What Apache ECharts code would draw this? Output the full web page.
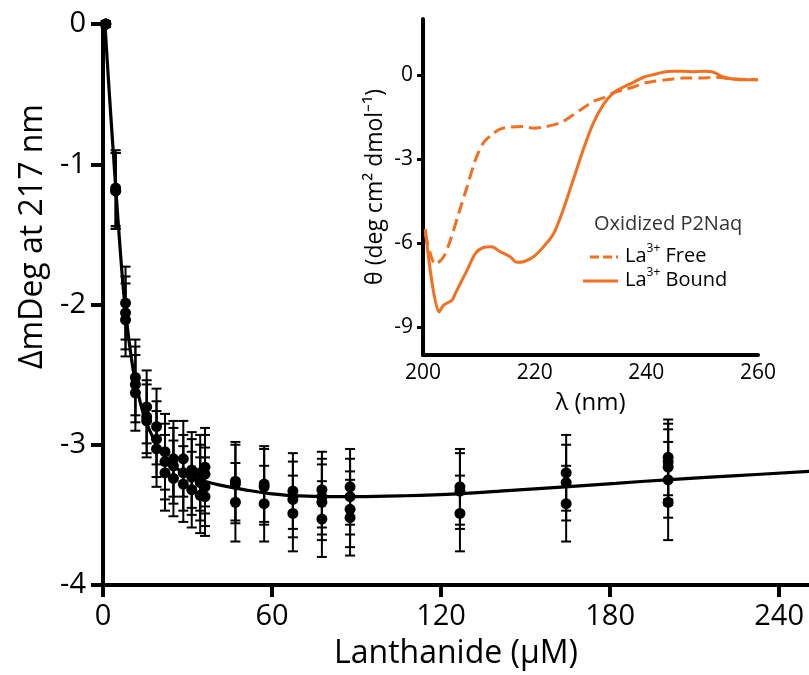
<!DOCTYPE html>
<html>
<head>
<meta charset="utf-8">
<script src="https://cdn.jsdelivr.net/npm/echarts@6/dist/echarts.min.js"></script>
<style>html,body{margin:0;padding:0;background:#fff;}#c{width:809px;height:675px;}</style>
</head>
<body>
<div id="c"></div>
<script>
// ---- Main titration data (Lanthanide µM vs ΔmDeg at 217 nm) ----
const conc = [1, 4.5, 8, 11.5, 15.5, 19, 22, 25, 28.5, 31.5, 34.5, 36.2, 47, 57.2, 67.4, 77.7, 87.7, 126.7, 164.4, 200.6];
const rep1 = [0, -1.17, -1.99, -2.52, -2.73, -2.87, -3.05, -3.10, -3.10, -3.18, -3.20, -3.16, -3.26, -3.28, -3.33, -3.32, -3.30, -3.30, -3.20, -3.09];
const rep2 = [0, -1.19, -2.06, -2.57, -2.80, -2.96, -3.12, -3.15, -3.20, -3.23, -3.27, -3.21, -3.28, -3.30, -3.39, -3.37, -3.37, -3.33, -3.27, -3.12];
const rep3 = [0, -1.19, -2.11, -2.63, -2.83, -3.03, -3.20, -3.24, -3.28, -3.32, -3.36, -3.30, -3.41, -3.42, -3.49, -3.41, -3.46, -3.49, -3.42, -3.16];
const rep4 = [null, null, null, null, null, null, null, null, null, null, null, -3.37, null, null, null, -3.53, -3.52, null, null, -3.25];
const rep5 = [null, null, null, null, null, null, null, null, null, null, null, null, null, null, null, null, null, null, null, -3.41];
const errBar = [0.02, 0.27, 0.26, 0.27, 0.26, 0.27, 0.27, 0.27, 0.27, 0.27, 0.27, 0.28, 0.28, 0.27, 0.27, 0.27, 0.27, 0.27, 0.27, 0.27];

// fitted curve
const fitX = [0.7, 2, 3.5, 4.6, 6, 7.5, 9, 11, 13, 15, 18, 21, 25, 30, 36, 42, 50, 60, 70, 80, 90, 105, 126, 145, 164, 182, 200, 225, 251];
const fitY = [0, -0.42, -0.87, -1.19, -1.58, -1.95, -2.22, -2.50, -2.68, -2.82, -2.96, -3.06, -3.15, -3.22, -3.26, -3.29, -3.32, -3.35, -3.365, -3.37, -3.37, -3.365, -3.35, -3.325, -3.30, -3.275, -3.25, -3.22, -3.19];

const mainXTicks = [0, 60, 120, 180, 240];
const mainYTicks = [0, -1, -2, -3, -4];

// ---- Inset CD spectra ----
const boundX = [200.4, 202.9, 203.7, 205.2, 205.8, 207.9, 209.4, 210.8, 212.3, 213.8, 215.6, 216.8, 218, 219.8, 221.6, 223.4, 225.1, 226.9, 228.7, 230.5, 232.3, 234.1, 235.9, 237.7, 239.5, 241.2, 243, 244.8, 246.6, 248.4, 250.2, 252, 253.8, 255.5, 257.9, 260];
const boundY = [-5.5, -8.46, -8.22, -8.04, -7.8, -6.97, -6.37, -6.16, -6.13, -6.31, -6.49, -6.69, -6.67, -6.49, -6.13, -5.66, -4.82, -3.75, -2.67, -1.72, -1.06, -0.64, -0.43, -0.26, -0.08, 0.01, 0.10, 0.13, 0.13, 0.12, 0.13, 0.10, -0.07, -0.14, -0.17, -0.17];
const freeX = [200.4, 201.3, 202.2, 203.7, 204.9, 206.4, 207.9, 209.4, 210.8, 212.3, 213.8, 215.6, 218, 219.8, 221.6, 223.4, 225.1, 226.9, 228.7, 230.5, 232.3, 234.1, 235.9, 237.7, 239.5, 241.2, 243.6, 246.6, 249.6, 252.5, 255.5, 260];
const freeY = [-5.66, -6.37, -6.76, -6.49, -5.9, -4.94, -3.99, -3.03, -2.43, -2.14, -1.93, -1.86, -1.84, -1.9, -1.86, -1.78, -1.66, -1.42, -1.18, -0.94, -0.82, -0.64, -0.53, -0.43, -0.29, -0.23, -0.17, -0.11, -0.11, -0.08, -0.14, -0.17];
const insetYTicks = [0, -3, -6, -9];
const insetXTicks = [200, 220, 240, 260];

const FONT = '"Open Sans", "Liberation Sans", sans-serif';
const ORANGE = '#f37021';

const pts = [];
const errs = [];
[rep1, rep2, rep3, rep4, rep5].forEach(rep => {
  rep.forEach((v, i) => {
    if (v === null) return;
    pts.push([conc[i], v]);
    errs.push([conc[i], v, errBar[i]]);
  });
});

const chart = echarts.init(document.getElementById('c'), null, {renderer: 'canvas'});
chart.setOption({
  animation: false,
  backgroundColor: '#fff',
  textStyle: {fontFamily: FONT},
  grid: [
    {left: 103, top: 24, width: 706, height: 562, containLabel: false},
    {left: 423, top: 19, width: 335, height: 336, containLabel: false}
  ],
  xAxis: [{
    type: 'value', gridIndex: 0, min: 0, max: 250.6, interval: 60,
    name: 'Lanthanide (\u03bcM)', nameLocation: 'middle', nameGap: 53,
    nameTextStyle: {fontSize: 32, color: '#000', fontFamily: FONT},
    axisLine: {show: true, onZero: false, lineStyle: {color: '#000', width: 4}},
    axisTick: {show: true, length: 12, lineStyle: {color: '#000', width: 4}, customValues: mainXTicks},
    axisLabel: {fontSize: 29, color: '#000', margin: 17, fontFamily: FONT, customValues: mainXTicks},
    splitLine: {show: false}
  }, {
    type: 'value', gridIndex: 1, min: 200, max: 260, interval: 20,
    name: '\u03bb (nm)', nameLocation: 'middle', nameGap: 36,
    nameTextStyle: {fontSize: 24, color: '#000', fontFamily: FONT},
    axisLine: {show: true, onZero: false, lineStyle: {color: '#000', width: 4}},
    axisTick: {show: false},
    axisLabel: {fontSize: 21, color: '#000', margin: 8, fontFamily: FONT, customValues: insetXTicks},
    splitLine: {show: false}
  }],
  yAxis: [{
    type: 'value', gridIndex: 0, min: -4, max: 0, interval: 1,
    name: '\u0394mDeg at 217 nm', nameLocation: 'middle', nameGap: 46,
    nameTextStyle: {fontSize: 32, color: '#000', fontFamily: FONT, padding: [0, 0, 0, 136]},
    axisLine: {show: true, onZero: false, lineStyle: {color: '#000', width: 4}},
    axisTick: {show: true, length: 12, lineStyle: {color: '#000', width: 4}, customValues: mainYTicks},
    axisLabel: {fontSize: 29, color: '#000', margin: 17, fontFamily: FONT, customValues: mainYTicks},
    splitLine: {show: false}
  }, {
    type: 'value', gridIndex: 1, min: -10, max: 2,
    name: '\u03b8 (deg cm\u00b2 dmol\u207b\u00b9)', nameLocation: 'middle', nameGap: 36,
    nameTextStyle: {fontSize: 23, color: '#000', fontFamily: FONT},
    axisLine: {show: true, onZero: false, lineStyle: {color: '#000', width: 4}},
    axisTick: {show: true, length: 6, lineStyle: {color: '#000', width: 3}, customValues: insetYTicks},
    axisLabel: {fontSize: 21, color: '#000', margin: 10, fontFamily: FONT, customValues: insetYTicks},
    splitLine: {show: false}
  }],
  series: [{
    type: 'custom', xAxisIndex: 0, yAxisIndex: 0, clip: false, z: 2,
    data: errs,
    renderItem: function (params, api) {
      const x = api.value(0), y = api.value(1), e = api.value(2);
      const top = api.coord([x, y + e]);
      const bot = api.coord([x, y - e]);
      const cw = 5;
      const st = {stroke: '#000', lineWidth: 2};
      return {type: 'group', children: [
        {type: 'line', shape: {x1: top[0], y1: top[1], x2: bot[0], y2: bot[1]}, style: st},
        {type: 'line', shape: {x1: top[0] - cw, y1: top[1], x2: top[0] + cw, y2: top[1]}, style: st},
        {type: 'line', shape: {x1: bot[0] - cw, y1: bot[1], x2: bot[0] + cw, y2: bot[1]}, style: st}
      ]};
    }
  }, {
    type: 'line', xAxisIndex: 0, yAxisIndex: 0, smooth: 0.4, showSymbol: false, z: 3,
    data: fitX.map((x, i) => [x, fitY[i]]),
    lineStyle: {color: '#000', width: 3.2}
  }, {
    type: 'scatter', xAxisIndex: 0, yAxisIndex: 0, symbol: 'circle', symbolSize: 11, z: 4,
    data: pts, itemStyle: {color: '#000', opacity: 1}
  }, {
    name: 'La3+ Free', type: 'line', xAxisIndex: 1, yAxisIndex: 1, smooth: 0.3, showSymbol: false, z: 5,
    data: freeX.map((x, i) => [x, freeY[i]]),
    lineStyle: {color: ORANGE, width: 3, type: [12, 6]}
  }, {
    name: 'La3+ Bound', type: 'line', xAxisIndex: 1, yAxisIndex: 1, smooth: 0.3, showSymbol: false, z: 5,
    data: boundX.map((x, i) => [x, boundY[i]]),
    lineStyle: {color: ORANGE, width: 3}
  }],
  graphic: [
    {type: 'text', left: 594, top: 214, style: {text: 'Oxidized P2Naq', fontSize: 20, fill: '#333', fontFamily: FONT}},
    {type: 'line', shape: {x1: 590, y1: 257, x2: 618, y2: 257}, style: {stroke: ORANGE, lineWidth: 3, lineDash: [9, 4]}},
    {type: 'text', left: 625, top: 243, style: {
      text: '{a|La}{s|3+}{a| Free}', fill: '#000', fontFamily: FONT,
      rich: {a: {fontSize: 20, lineHeight: 26, fontFamily: FONT}, s: {fontSize: 12, verticalAlign: 'top', lineHeight: 18, fontFamily: FONT}}
    }},
    {type: 'line', shape: {x1: 583, y1: 281, x2: 618, y2: 281}, style: {stroke: ORANGE, lineWidth: 3}},
    {type: 'text', left: 625, top: 267, style: {
      text: '{a|La}{s|3+}{a| Bound}', fill: '#000', fontFamily: FONT,
      rich: {a: {fontSize: 20, lineHeight: 26, fontFamily: FONT}, s: {fontSize: 12, verticalAlign: 'top', lineHeight: 18, fontFamily: FONT}}
    }}
  ]
});
</script>
</body>
</html>
